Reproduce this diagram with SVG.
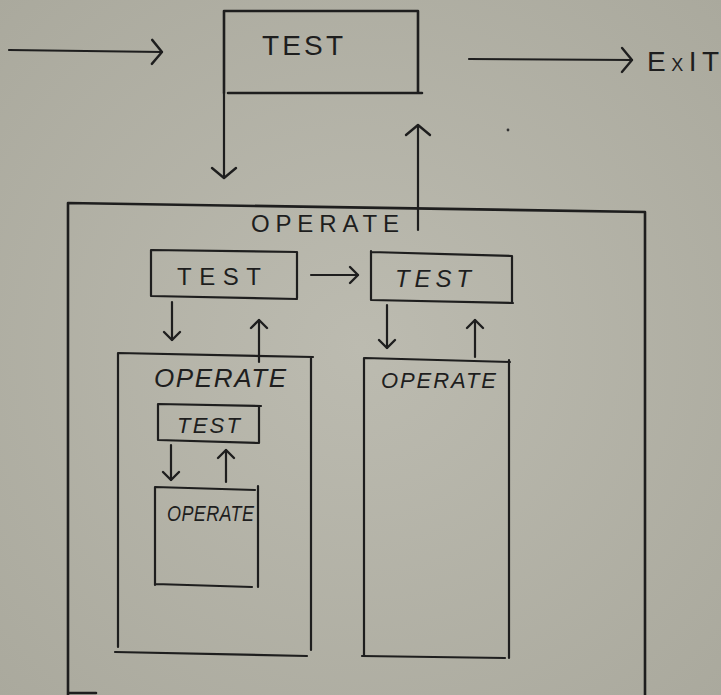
<svg xmlns="http://www.w3.org/2000/svg" width="721" height="695" viewBox="0 0 721 695">
  <defs>
    <radialGradient id="paper" cx="0.5" cy="0.5" r="0.75">
      <stop offset="0" stop-color="#bcbbb0"/>
      <stop offset="1" stop-color="#a9a89c"/>
    </radialGradient>
    <marker id="big" markerUnits="userSpaceOnUse" viewBox="0 0 14 28" markerWidth="14" markerHeight="28" refX="12" refY="14" orient="auto">
      <path d="M2,2 L12,14 L2,26" fill="none" stroke="#1e1e1e" stroke-width="2.4" stroke-linecap="round" stroke-linejoin="round"/>
    </marker>
    <marker id="small" markerUnits="userSpaceOnUse" viewBox="0 0 12 20" markerWidth="12" markerHeight="20" refX="10" refY="10" orient="auto">
      <path d="M2,2 L10,10 L2,18" fill="none" stroke="#1e1e1e" stroke-width="2.4" stroke-linecap="round" stroke-linejoin="round"/>
    </marker>
  </defs>
  <style>
    .edge { fill: none; stroke: #1e1e1e; stroke-width: 2.6; stroke-linecap: round; }
    .thin { fill: none; stroke: #1e1e1e; stroke-width: 2.2; stroke-linecap: round; }
    .arr { fill: none; stroke: #1e1e1e; stroke-width: 2.2; stroke-linecap: round; }
    .big { marker-end: url(#big); }
    .sm { marker-end: url(#small); }
    text { font-family: "Liberation Sans", Arial, sans-serif; fill: #1e1e1e; }
    .it { font-style: italic; }
  </style>
  <rect width="721" height="695" fill="url(#paper)"/>

  <g id="test-top">
    <path class="edge" d="M225,11 L418,11 M418,11 L418,93 M228,93 L422,93 M224,11 L224,93"/>
    <text x="262" y="55" font-size="28" textLength="81" lengthAdjust="spacing">TEST</text>
  </g>

  <g id="exit-label">
    <text x="647" y="71" font-size="28" textLength="72" lengthAdjust="spacing">E<tspan font-size="18">X</tspan>IT</text>
  </g>

  <g id="operate-main">
    <path class="edge" d="M68,203 L645,212 M645,212 L645,695 M68,203 L68,695 M68,693 L96,693"/>
    <text x="251" y="232" font-size="24" textLength="148" lengthAdjust="spacing">OPERATE</text>
  </g>

  <g id="test-a">
    <path class="thin" d="M151,250 L297,252 M297,252 L297,298 M151,296 L297,299 M151,250 L151,296"/>
    <text x="177" y="285" font-size="24" textLength="84" lengthAdjust="spacing">TEST</text>
  </g>

  <g id="test-b">
    <path class="thin" d="M371,252 L512,256 M512,256 L512,303 M371,300 L513,303 M371,251 L371,300"/>
    <text class="it" x="395" y="287" font-size="24" textLength="76" lengthAdjust="spacing">TEST</text>
  </g>

  <g id="operate-a">
    <path class="thin" d="M118,353 L313,357 M311,357 L311,650 M115,652 L307,656 M118,353 L118,647"/>
    <text class="it" x="154" y="387" font-size="26" textLength="132" lengthAdjust="spacing">OPERATE</text>
  </g>

  <g id="operate-b">
    <path class="thin" d="M365,358 L510,362 M509,360 L509,658 M362,656 L505,658 M364,358 L364,656"/>
    <text class="it" x="381" y="388" font-size="22" textLength="115" lengthAdjust="spacing">OPERATE</text>
  </g>

  <g id="test-c">
    <path class="thin" d="M158,404 L261,406 M259,406 L259,443 M158,440 L259,443 M158,404 L158,440"/>
    <text class="it" x="177" y="433" font-size="22" textLength="63" lengthAdjust="spacing">TEST</text>
  </g>

  <g id="operate-c">
    <path class="thin" d="M155,487 L255,490 M258,486 L258,587 M155,584 L252,587 M155,487 L155,585"/>
    <text class="it" x="167" y="521" font-size="18" textLength="87" lengthAdjust="spacing" transform="translate(0,521) scale(1,1.2) translate(0,-521)">OPERATE</text>
  </g>

  <g id="connectors">
    <path class="arr big" d="M9,50 L162,52"/>
    <path class="arr big" d="M469,59 L632,60"/>
    <path class="arr big" d="M224,93 L224,178"/>
    <path class="arr big" d="M418,230 L418,125"/>
    <path class="arr sm" d="M311,275 L358,275"/>
    <path class="arr sm" d="M172,302 L172,340"/>
    <path class="arr sm" d="M259,362 L259,320"/>
    <path class="arr sm" d="M387,305 L387,348"/>
    <path class="arr sm" d="M475,357 L475,320"/>
    <path class="arr sm" d="M171,445 L171,480"/>
    <path class="arr sm" d="M226,482 L226,450"/>
  </g>

  <circle cx="508" cy="130" r="1.4" fill="#333"/>
</svg>
